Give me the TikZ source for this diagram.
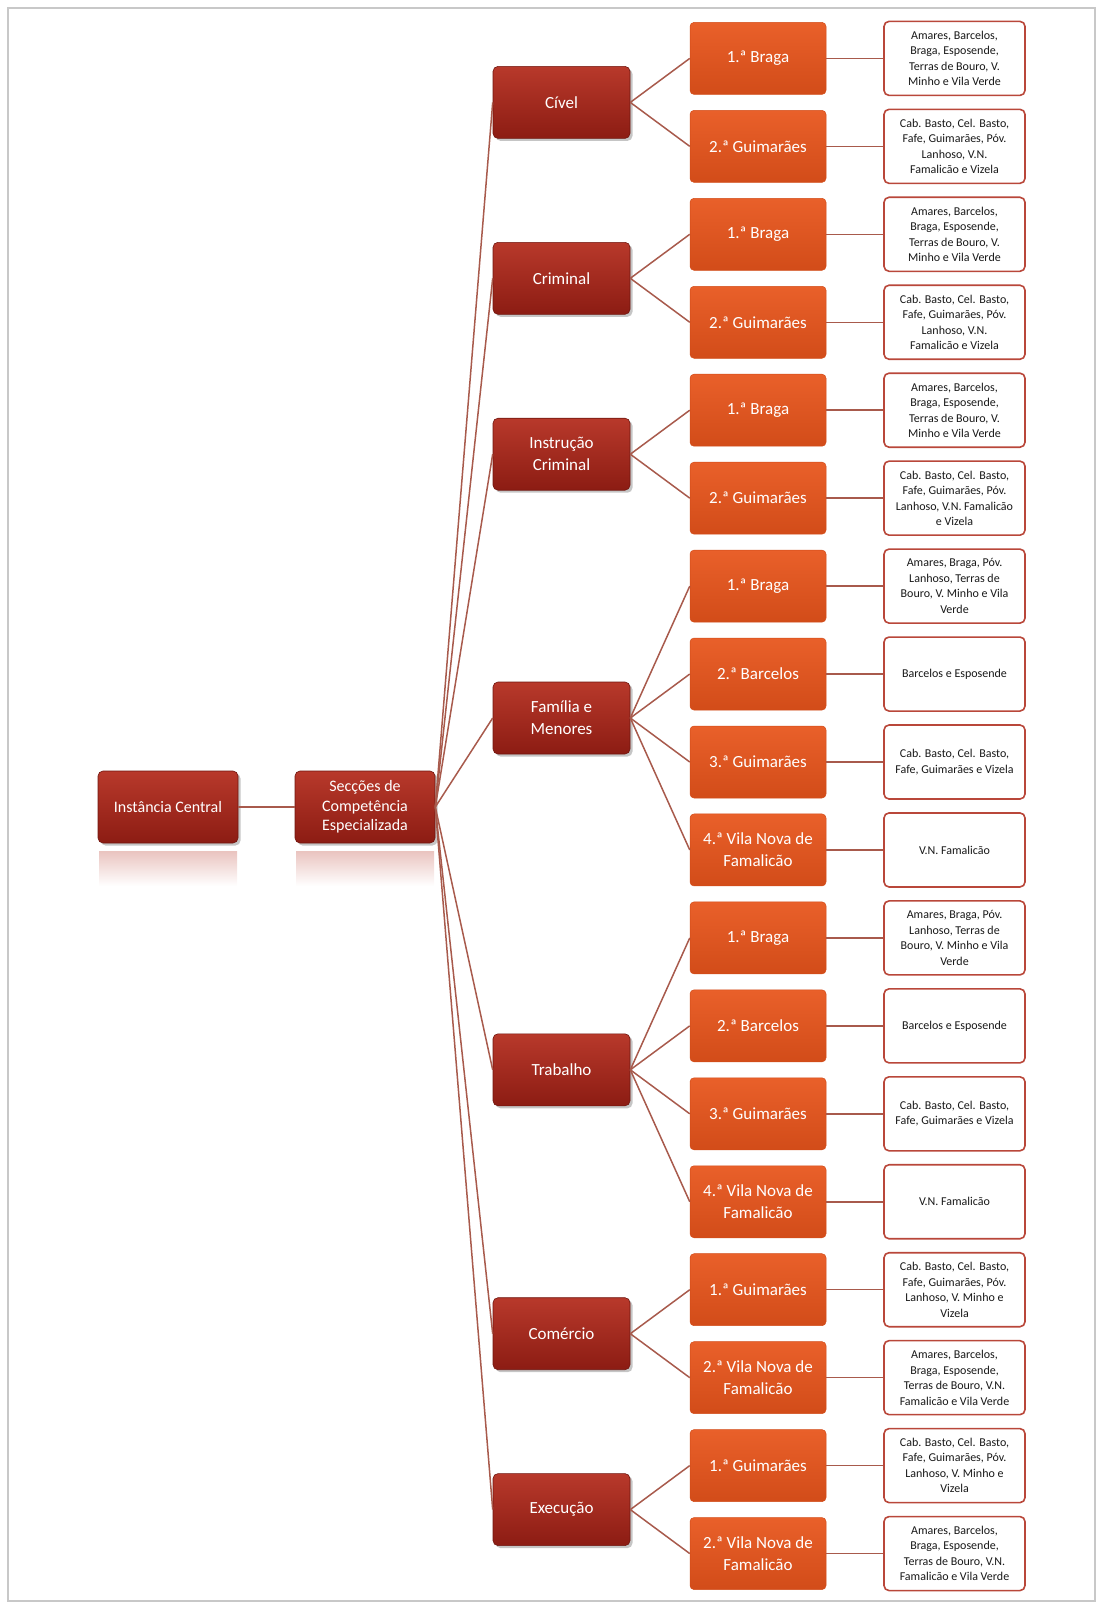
\documentclass[tikz,border=0pt]{standalone}
\usepackage{fontspec}
\setmainfont{Carlito}
\usetikzlibrary{shadows}
\definecolor{darkredtop}{HTML}{B8392B}
\definecolor{darkredbot}{HTML}{8C1C13}
\definecolor{orangetop}{HTML}{E9602A}
\definecolor{orangebot}{HTML}{D24C19}
\definecolor{conn}{HTML}{A85A4C}
\definecolor{wborder}{HTML}{B9473A}
\definecolor{frame}{HTML}{C8C8C8}
\tikzset{
  rootbox/.style={rectangle, rounded corners=5pt, minimum width=140pt, minimum height=72pt,
    top color=darkredtop, bottom color=darkredbot, draw=darkredbot!80!black, line width=0.6pt,
    text=white, align=center, font=\fontsize{16}{19.5}\selectfont, inner sep=2pt,
    drop shadow={shadow xshift=2.5pt, shadow yshift=-2.5pt, fill=black!45, opacity=0.5}},
  secbox/.style={rectangle, rounded corners=5pt, minimum width=137pt, minimum height=72pt,
    top color=darkredtop, bottom color=darkredbot, draw=darkredbot!80!black, line width=0.6pt,
    text=white, align=center, font=\fontsize{17}{22}\selectfont, inner sep=2pt,
    drop shadow={shadow xshift=2.5pt, shadow yshift=-2.5pt, fill=black!45, opacity=0.5}},
  unitbox/.style={rectangle, rounded corners=4pt, minimum width=136pt, minimum height=72pt,
    top color=orangetop, bottom color=orangebot, draw=orangebot, line width=0.5pt,
    text=white, align=center, font=\fontsize{17}{22}\selectfont, inner sep=2pt},
  areabox/.style={rectangle, rounded corners=5pt, minimum width=141pt, minimum height=74pt,
    fill=white, draw=wborder, line width=1.6pt, text=black!90, align=center,
    font=\fontsize{12}{15.5}\selectfont, inner sep=2pt},
  link/.style={draw=conn, line width=1.5pt}
}
\begin{document}
\begin{tikzpicture}[x=1pt,y=-1pt]
\useasboundingbox (0,0) rectangle (1103,1608);
\draw[frame, line width=1.2pt] (8,8) rectangle (1095,1601);

% reflections under the root boxes
\shade[top color=darkredtop!30, bottom color=white] (99,851) rectangle (237,886);
\shade[top color=darkredtop!30, bottom color=white] (296,851) rectangle (434,886);

% root level
\node[rootbox] (ic) at (168,807) {Instância Central};
\node[rootbox] (sce) at (365,807) {Secções de\\Competência\\Especializada};

% level 3 (units)
\node[unitbox] (c1)  at (758,58.4)   {1.ª Braga};
\node[unitbox] (c2)  at (758,146.35) {2.ª Guimarães};
\node[unitbox] (c3)  at (758,234.3)  {1.ª Braga};
\node[unitbox] (c4)  at (758,322.25) {2.ª Guimarães};
\node[unitbox] (c5)  at (758,410.2)  {1.ª Braga};
\node[unitbox] (c6)  at (758,498.15) {2.ª Guimarães};
\node[unitbox] (c7)  at (758,586.1)  {1.ª Braga};
\node[unitbox] (c8)  at (758,674.05) {2.ª Barcelos};
\node[unitbox] (c9)  at (758,762)    {3.ª Guimarães};
\node[unitbox] (c10) at (758,849.95) {4.ª Vila Nova de\\Famalicão};
\node[unitbox] (c11) at (758,937.9)  {1.ª Braga};
\node[unitbox] (c12) at (758,1025.85){2.ª Barcelos};
\node[unitbox] (c13) at (758,1113.8) {3.ª Guimarães};
\node[unitbox] (c14) at (758,1201.75){4.ª Vila Nova de\\Famalicão};
\node[unitbox] (c15) at (758,1289.7) {1.ª Guimarães};
\node[unitbox] (c16) at (758,1377.65){2.ª Vila Nova de\\Famalicão};
\node[unitbox] (c17) at (758,1465.6) {1.ª Guimarães};
\node[unitbox] (c18) at (758,1553.55){2.ª Vila Nova de\\Famalicão};

% level 2 (sections)
\node[secbox] (b1) at (561.5,102.4)  {Cível};
\node[secbox] (b2) at (561.5,278.3)  {Criminal};
\node[secbox] (b3) at (561.5,454.2)  {Instrução\\Criminal};
\node[secbox] (b4) at (561.5,718)    {Família e\\Menores};
\node[secbox] (b5) at (561.5,1069.8) {Trabalho};
\node[secbox] (b6) at (561.5,1333.7) {Comércio};
\node[secbox] (b7) at (561.5,1509.6) {Execução};

% level 4 (areas)
\node[areabox] (w1)  at (954.5,58.4)   {Amares, Barcelos,\\Braga, Esposende,\\Terras de Bouro, V.\\Minho e Vila Verde};
\node[areabox] (w2)  at (954.5,146.35) {Cab. Basto, Cel. Basto,\\Fafe, Guimarães, Póv.\\Lanhoso, V.N.\\Famalicão e Vizela};
\node[areabox] (w3)  at (954.5,234.3)  {Amares, Barcelos,\\Braga, Esposende,\\Terras de Bouro, V.\\Minho e Vila Verde};
\node[areabox] (w4)  at (954.5,322.25) {Cab. Basto, Cel. Basto,\\Fafe, Guimarães, Póv.\\Lanhoso, V.N.\\Famalicão e Vizela};
\node[areabox] (w5)  at (954.5,410.2)  {Amares, Barcelos,\\Braga, Esposende,\\Terras de Bouro, V.\\Minho e Vila Verde};
\node[areabox] (w6)  at (954.5,498.15) {Cab. Basto, Cel. Basto,\\Fafe, Guimarães, Póv.\\Lanhoso, V.N. Famalicão\\e Vizela};
\node[areabox] (w7)  at (954.5,586.1)  {Amares, Braga, Póv.\\Lanhoso, Terras de\\Bouro, V. Minho e Vila\\Verde};
\node[areabox] (w8)  at (954.5,674.05) {Barcelos e Esposende};
\node[areabox] (w9)  at (954.5,762)    {Cab. Basto, Cel. Basto,\\Fafe, Guimarães e Vizela};
\node[areabox] (w10) at (954.5,849.95) {V.N. Famalicão};
\node[areabox] (w11) at (954.5,937.9)  {Amares, Braga, Póv.\\Lanhoso, Terras de\\Bouro, V. Minho e Vila\\Verde};
\node[areabox] (w12) at (954.5,1025.85){Barcelos e Esposende};
\node[areabox] (w13) at (954.5,1113.8) {Cab. Basto, Cel. Basto,\\Fafe, Guimarães e Vizela};
\node[areabox] (w14) at (954.5,1201.75){V.N. Famalicão};
\node[areabox] (w15) at (954.5,1289.7) {Cab. Basto, Cel. Basto,\\Fafe, Guimarães, Póv.\\Lanhoso, V. Minho e\\Vizela};
\node[areabox] (w16) at (954.5,1377.65){Amares, Barcelos,\\Braga, Esposende,\\Terras de Bouro, V.N.\\Famalicão e Vila Verde};
\node[areabox] (w17) at (954.5,1465.6) {Cab. Basto, Cel. Basto,\\Fafe, Guimarães, Póv.\\Lanhoso, V. Minho e\\Vizela};
\node[areabox] (w18) at (954.5,1553.55){Amares, Barcelos,\\Braga, Esposende,\\Terras de Bouro, V.N.\\Famalicão e Vila Verde};

% connectors
\path[link] (ic.east) -- (sce.west);
\foreach \b in {b1,b2,b3,b4,b5,b6,b7}{\path[link] (sce.east) -- (\b.west);}
\foreach \p/\c in {b1/c1,b1/c2,b2/c3,b2/c4,b3/c5,b3/c6,b4/c7,b4/c8,b4/c9,b4/c10,b5/c11,b5/c12,b5/c13,b5/c14,b6/c15,b6/c16,b7/c17,b7/c18}{\path[link] (\p.east) -- (\c.west);}
\foreach \i in {1,...,18}{\path[link] (c\i.east) -- (w\i.west);}
\end{tikzpicture}
\end{document}
